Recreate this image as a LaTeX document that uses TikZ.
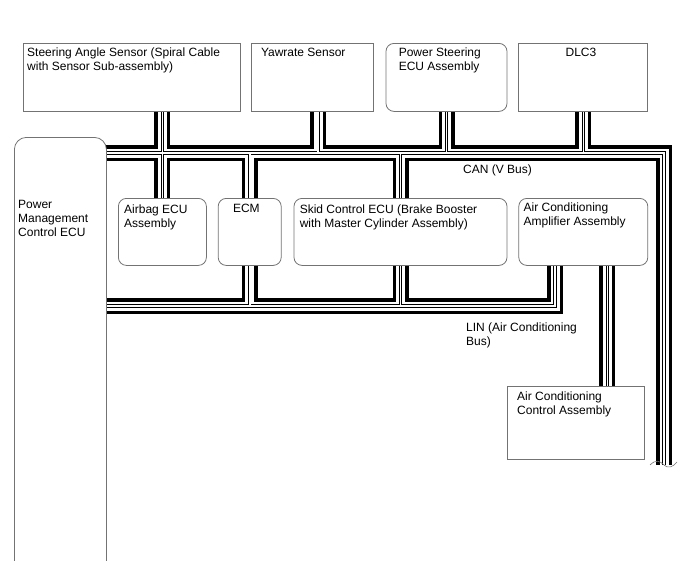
\documentclass[tikz,border=0pt]{standalone}
\usepackage{fontspec}
\setmainfont{Liberation Sans}
\usetikzlibrary{positioning,backgrounds}

\begin{document}
\begin{tikzpicture}[
x=1pt, y=-1pt,
font=\fontsize{12}{14}\selectfont,
box/.style={draw=black!55, line width=0.8pt, minimum height=68pt, anchor=north west, inner sep=0pt},
rbox/.style={box, rounded corners=8pt},
txt/.style={anchor=north west, align=left, inner sep=0pt},
bus/.style={line width=16pt, line join=miter,
  postaction={draw, white, line width=9pt},
  postaction={draw, black, line width=3.2pt},
  postaction={draw, white, line width=1.6pt}}
]
\useasboundingbox (0,0) rectangle (688,560);
\clip (0,0) rectangle (688,560);

% top row
\node[box, minimum width=217pt] (sas) at (23,43) {};
\node[box, minimum width=122pt, right=10pt of sas] (yaw) {};
\node[rbox, minimum width=121pt, right=12pt of yaw] (ps) {};
\node[box, minimum width=129pt, right=11pt of ps] (dlc) {};

% middle row
\node[rbox, minimum width=92pt, minimum height=440pt, rounded corners=12pt] (pmc) at (14,137) {};
\node[rbox, minimum width=88pt, minimum height=67pt] (ab) at (118,198) {};
\node[rbox, minimum width=63pt, minimum height=67pt, right=11pt of ab] (ecm) {};
\node[rbox, minimum width=213pt, minimum height=67pt, right=12pt of ecm] (skid) {};
\node[rbox, minimum width=129pt, minimum height=67pt, right=11pt of skid] (acamp) {};
\node[box, minimum width=137pt, minimum height=73pt] (acctl) at (507,386) {};

% texts
\node[txt] (sasT) at ([shift={(4,5)}]sas.north west) {Steering Angle Sensor (Spiral Cable\\with Sensor Sub-assembly)};
\node[txt] (yawT) at ([shift={(10,5)}]yaw.north west) {Yawrate Sensor};
\node[txt] (psT) at ([shift={(13,5)}]ps.north west) {Power Steering\\ECU Assembly};
\node[txt] (dlcT) at ([shift={(47,5)}]dlc.north west) {DLC3};
\node[txt] (pmcT) at (18,200) {Power\\Management\\Control ECU};
\node[txt] (abT) at ([shift={(6,7)}]ab.north west) {Airbag ECU\\Assembly};
\node[txt] (ecmT) at ([shift={(15,6)}]ecm.north west) {ECM};
\node[txt] (skidT) at ([shift={(6,7)}]skid.north west) {Skid Control ECU (Brake Booster\\with Master Cylinder Assembly)};
\node[txt] (acampT) at ([shift={(5,5)}]acamp.north west) {Air Conditioning\\Amplifier Assembly};
\node[txt] (acctlT) at ([shift={(10,6)}]acctl.north west) {Air Conditioning\\Control Assembly};
\node[txt] (canT) at (463,165) {CAN (V Bus)};
\node[txt] (linT) at (466,323) {LIN (Air Conditioning\\Bus)};

% bus ends
\coordinate (canW) at (106,153);
\coordinate (canE) at (664,153);
\coordinate (canS) at (664,465);
\coordinate (linW) at (106,306);
\coordinate (linE) at (555,306);

\begin{scope}[on background layer]
\draw[bus] (canW) -- (canE) -- (canS)
  (sas.south -| ab.north) -- (ab.north)
  ([xshift=6pt]yaw.south) -- ([xshift=6pt]yaw.south |- canW)
  (ps.south) -- (ps.south |- canW)
  (dlc.south) -- (dlc.south |- canW)
  (ecm.north) -- (ecm.north |- canW)
  (skid.north) -- (skid.north |- canW)
  (linW) -- (linE) -- (linE |- acamp.south)
  (ecm.south) -- (ecm.south |- linW)
  (skid.south) -- (skid.south |- linW)
  ([xshift=24pt]acamp.south) -- ([xshift=24pt]acamp.south |- acctl.north);
\end{scope}

% cut of the bus
\draw[black!55, line width=0.6pt] (650,465) .. controls (656,459) and (660,461) .. (664,465) .. controls (668,469) and (673,467) .. (677,462);
\end{tikzpicture}
\end{document}
